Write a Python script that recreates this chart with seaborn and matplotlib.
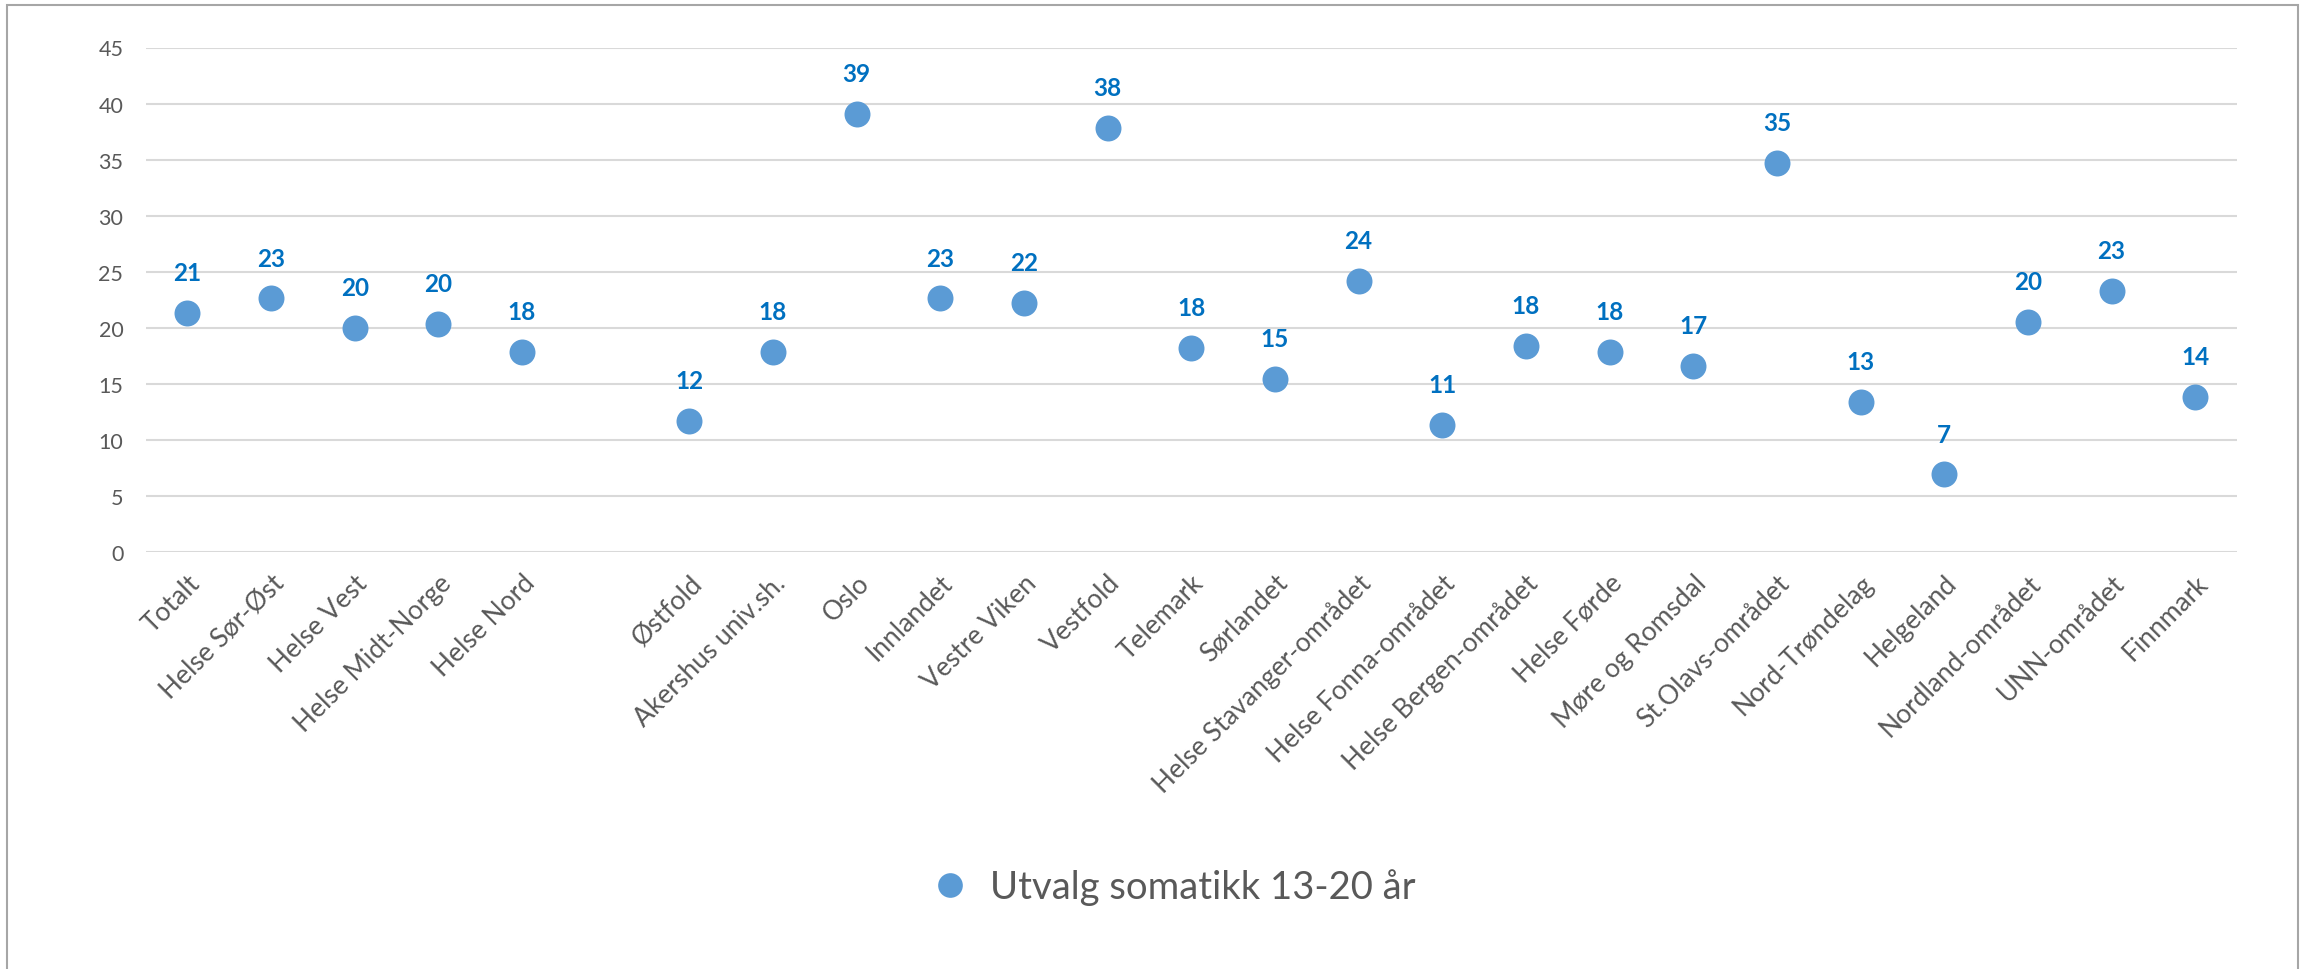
import matplotlib
matplotlib.use("Agg")
import matplotlib.pyplot as plt
import seaborn as sns
import pandas as pd
from matplotlib.patches import Rectangle

categories = ["Totalt", "Helse Sør-Øst", "Helse Vest", "Helse Midt-Norge", "Helse Nord",
              "Østfold", "Akershus univ.sh.", "Oslo", "Innlandet", "Vestre Viken",
              "Vestfold", "Telemark", "Sørlandet", "Helse Stavanger-området",
              "Helse Fonna-området", "Helse Bergen-området", "Helse Førde",
              "Møre og Romsdal", "St.Olavs-området", "Nord-Trøndelag", "Helgeland",
              "Nordland-området", "UNN-området", "Finnmark"]
values = [21.3, 22.6, 20.0, 20.3, 17.8,
          11.7, 17.8, 39.1, 22.6, 22.2,
          37.8, 18.2, 15.4, 24.2,
          11.3, 18.4, 17.8,
          16.6, 34.7, 13.4, 6.9,
          20.5, 23.3, 13.8]
series_name = "Utvalg somatikk 13-20 år"
# order of category slots on the x axis (a blank slot separates the regions from the hospitals)
order = categories[:5] + [" "] + categories[5:]
yticks = [0, 5, 10, 15, 20, 25, 30, 35, 40, 45]

df = pd.DataFrame({"region": categories, "value": values, "serie": series_name})

sns.set_theme(style="white")
plt.rcParams["font.family"] = ["Lato", "DejaVu Sans"]

W, H = 2305, 970
fig = plt.figure(figsize=(W / 100, H / 100), dpi=100)
ax = fig.add_axes([145.5 / W, (H - 552.7) / H, (2237 - 145.5) / W, (552.7 - 48.5) / H])

point_color = "#5B9BD5"
sns.stripplot(data=df, x="region", y="value", order=order, hue="serie",
              palette=[point_color], jitter=False, size=18.7, linewidth=0,
              ax=ax, zorder=3)

ax.set_ylim(0, 45)
ax.set_yticks(yticks)
ax.set_xlim(-0.5, len(order) - 0.5)
ax.yaxis.grid(True, color="#D9D9D9", linewidth=1.5, zorder=0)
ax.xaxis.grid(False)
ax.set_axisbelow(True)
for s in ax.spines.values():
    s.set_visible(False)
ax.set_xlabel("")
ax.set_ylabel("")
ax.tick_params(axis="y", length=0, pad=16, labelsize=15.5, labelcolor="#595959")
ax.tick_params(axis="x", length=0, pad=13, labelsize=19, labelcolor="#595959")
for lab in ax.get_xticklabels():
    lab.set_rotation(45)
    lab.set_ha("right")
    lab.set_rotation_mode("anchor")

# data labels
for cat, v in zip(categories, values):
    xi = order.index(cat)
    ax.annotate(f"{v:.0f}", (xi, v), xytext=(0, 29), textcoords="offset points",
                ha="center", va="center", fontsize=17.5, fontweight="bold",
                color="#0070C0")

leg = ax.legend(loc="center", bbox_to_anchor=(0.487, -0.665), frameon=False,
                fontsize=27.5, markerscale=0.95, handletextpad=0.05,
                borderaxespad=0)
for t in leg.get_texts():
    t.set_color("#595959")

# chart border
fig.patches.append(Rectangle((7 / W, -0.02), (2298 - 7) / W, (H - 6) / H + 0.02,
                             transform=fig.transFigure, fill=False,
                             edgecolor="#A6A6A6", linewidth=1.5))

fig.savefig("out.png", dpi=100)
